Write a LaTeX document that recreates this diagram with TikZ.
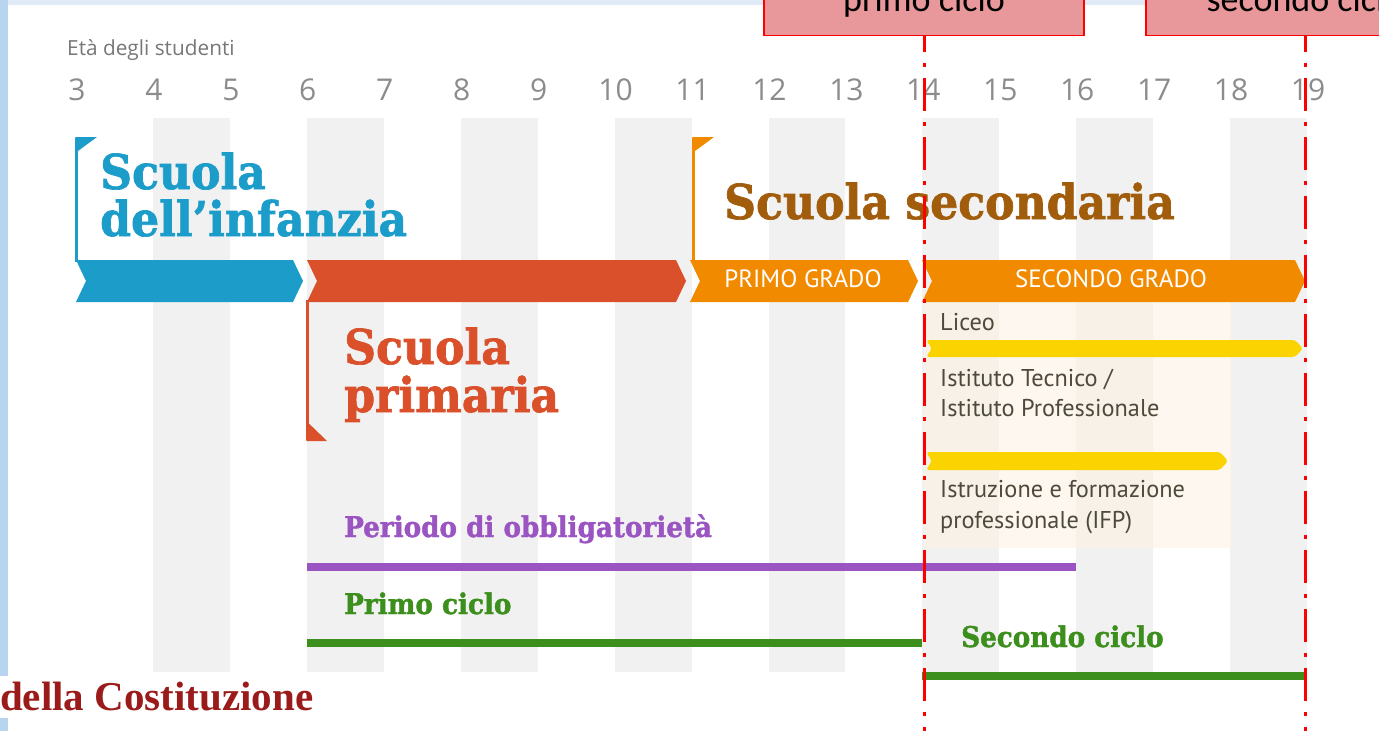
\documentclass[tikz,border=0pt]{standalone}
\usepackage{fontspec}
\setmainfont{DejaVu Serif}
\newfontfamily\slab{DejaVu Serif}[FakeStretch=0.92,BoldFeatures={FakeBold=1.4}]
\newfontfamily\opensans{Open Sans}
\newfontfamily\ptsans{PT Sans}
\newfontfamily\carlito{Carlito}
\newfontfamily\libserif{Liberation Serif}
\definecolor{topblue}{HTML}{E0EBF7}
\definecolor{sideblue}{HTML}{B8D5EF}
\definecolor{stripe}{HTML}{F1F1F1}
\definecolor{peach}{HTML}{FDF1E2}
\definecolor{infblue}{HTML}{1C9CC9}
\definecolor{primred}{HTML}{D9502B}
\definecolor{secorange}{HTML}{F28A00}
\definecolor{secbrown}{HTML}{A15D0C}
\definecolor{liceoyellow}{HTML}{FAD300}
\definecolor{obbpurple}{HTML}{9B55C2}
\definecolor{ciclogreen}{HTML}{3C8E1D}
\definecolor{numgrey}{HTML}{8C8C8C}
\definecolor{txtgrey}{HTML}{4D4A3C}
\definecolor{boxfill}{HTML}{E8989A}
\definecolor{costred}{HTML}{9B1B1B}
\definecolor{cutred}{HTML}{FF0000}
\tikzset{
  num/.style={inner sep=0, anchor=base, text=numgrey, font=\opensans\fontsize{30}{30}\selectfont},
  title/.style={inner sep=0, anchor=base west, font=\slab\bfseries\fontsize{48}{48}\selectfont},
  subtitle/.style={inner sep=0, anchor=base west, font=\slab\bfseries\fontsize{28.5}{28.5}\selectfont},
  gradetxt/.style={inner sep=0, anchor=base, text=white, font=\ptsans\fontsize{25}{25}\selectfont},
  pathtxt/.style={inner sep=0, anchor=base west, text=txtgrey, font=\ptsans\fontsize{24.3}{24.3}\selectfont},
  flagline/.style={line width=2.5pt},
  period/.style={line width=8pt},
  redbox/.style={fill=boxfill, draw=cutred, line width=1.5pt},
  boxtxt/.style={inner sep=0, anchor=base, text=black, font=\carlito\fontsize{36}{36}\selectfont},
  cutline/.style={draw=cutred, line width=3pt, dash pattern=on 33pt off 11pt on 4pt off 11pt, dash phase=17pt}
}
\begin{document}
\begin{tikzpicture}[x=1pt,y=-1pt]
\useasboundingbox (0,0) rectangle (1379,731);
\clip (0,0) rectangle (1379,731);
\fill[white] (0,0) rectangle (1379,731);
\fill[topblue] (0,0) rectangle (1379,5);
\fill[sideblue] (0,0) rectangle (8,676);
\fill[sideblue] (0,718) rectangle (8,731);
% stripes
\foreach \l/\r in {152.9/229.9,306.8/383.8,460.7/537.6,614.6/691.5,768.5/845.4,922.3/999.3,1076.2/1153.2,1230.1/1307}
  \fill[stripe] (\l,118) rectangle (\r,672);
\fill[peach, opacity=0.55] (924,302) rectangle (1232,548);
% header
\node[inner sep=0, anchor=base west, text=numgrey!85!black, font=\opensans\fontsize{20.8}{20.8}\selectfont] (eta) at (67,55) {Età degli studenti};
\foreach \n in {3,...,19}
  \node[num] (n\n) at ({77+(\n-3)*76.94},100) {\n};
% flags
\draw[flagline, infblue] (76.5,138) -- (76.5,262);
\fill[infblue] (75.3,137) -- (97,137) -- (75.3,153) -- cycle;
\draw[flagline, secorange] (693.5,138) -- (693.5,262);
\fill[secorange] (692.3,137) -- (714,137) -- (692.3,153) -- cycle;
\draw[flagline, primred] (307.5,300) -- (307.5,440);
\fill[primred] (306.3,421) -- (306.3,441) -- (327,441) -- cycle;
% chevron bars
\fill[infblue] (76,260) -- (293,260) -- (303,281) -- (293,302) -- (76,302) -- (86,281) -- cycle;
\fill[primred] (307,260) -- (676,260) -- (686,281) -- (676,302) -- (307,302) -- (317,281) -- cycle;
\fill[secorange] (690,260) -- (908,260) -- (918,281) -- (908,302) -- (690,302) -- (700,281) -- cycle;
\fill[secorange] (922,260) -- (1295,260) -- (1305,281) -- (1295,302) -- (922,302) -- (932,281) -- cycle;
\node[gradetxt] (pg) at (803,287) {PRIMO GRADO};
\node[gradetxt] (sg) at (1111,287) {SECONDO GRADO};
% yellow paths
\fill[liceoyellow, rounded corners=3pt] (926,340) -- (1295,340) -- (1303,348.5) -- (1295,357) -- (926,357) -- (932,348.5) -- cycle;
\fill[liceoyellow, rounded corners=3pt] (926,452) -- (1220,452) -- (1228,461) -- (1220,470) -- (926,470) -- (932,461) -- cycle;
% titles
\node[title, text=infblue] (inf1) at (100,189) {Scuola};
\node[title, text=infblue] (inf2) at (100,236) {dell’infanzia};
\node[title, text=secbrown] (sec) at (724,219) {Scuola secondaria};
\node[title, text=primred] (pri1) at (344,364) {Scuola};
\node[title, text=primred] (pri2) at (344,412) {primaria};
% path texts
\node[pathtxt] (lic) at (940,330) {Liceo};
\node[pathtxt] (ist1) at (940,386) {Istituto Tecnico /};
\node[pathtxt] (ist2) at (940,416) {Istituto Professionale};
\node[pathtxt] (ifp1) at (940,497) {Istruzione e formazione};
\node[pathtxt] (ifp2) at (940,528) {professionale (IFP)};
% periods
\node[subtitle, text=obbpurple] (obb) at (344,537) {Periodo di obbligatorietà};
\draw[period, obbpurple] (307,567) -- (1076,567);
\node[subtitle, text=ciclogreen] (c1) at (344,614) {Primo ciclo};
\draw[period, ciclogreen] (307,643) -- (922,643);
\node[subtitle, text=ciclogreen] (c2) at (961,647) {Secondo ciclo};
\draw[period, ciclogreen] (922,676) -- (1307,676);
% bottom-left caption
\node[inner sep=0, anchor=base west, text=costred, font=\libserif\bfseries\fontsize{41}{41}\selectfont] (cost) at (0,710) {della Costituzione};
% red boxes
\node[redbox, minimum width=320pt, minimum height=80pt, inner sep=0, anchor=south] (pcbox) at (924,36) {};
\node[boxtxt] (pctxt) at (924,11) {primo ciclo};
\node[redbox, minimum width=318pt, minimum height=80pt, inner sep=0, anchor=south] (scbox) at (1305,36) {};
\node[boxtxt] (sctxt) at (1305,11) {secondo ciclo};
\coordinate (pcend) at (924,731);
\coordinate (scend) at (1305,731);
\draw[cutline] (pcbox.south) -- (pcend);
\draw[cutline] (scbox.south) -- (scend);
\end{tikzpicture}
\end{document}
